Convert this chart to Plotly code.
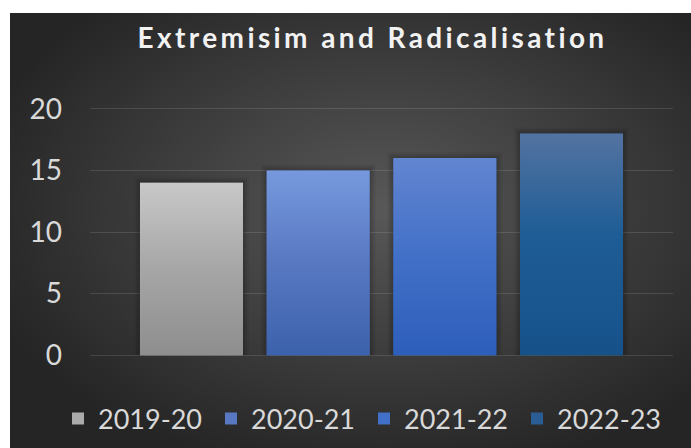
import base64
import plotly.graph_objects as go

# Data
periods = ["2019-20", "2020-21", "2021-22", "2022-23"]
cases = [14, 15, 16, 18]
y_ticks = [0, 5, 10, 15, 20]

# Styling: one vertical gradient per series (bottom -> top), plus a flat legend swatch colour
gradients = [
    [[0, "#8e8e8e"], [0.5, "#a6a6a6"], [1, "#c8c8c8"]],
    [[0, "#3c62ab"], [0.5, "#5878c2"], [1, "#7699dd"]],
    [[0, "#2d5eba"], [0.5, "#4270c8"], [1, "#6285d0"]],
    [[0, "#16518a"], [0.55, "#1f5d96"], [1, "#5373a1"]],
]
swatch = ["#ababab", "#5878c2", "#4270c8", "#2a5d95"]
bar_width = 0.813
text_color = "#d9d9d9"
font_family = "Lato"
# soft shadow around bars: (line width px, opacity)
halo = [(12, 0.05), (8, 0.07), (4, 0.09)]

W, H = 691, 448
margin = dict(l=90, r=18, t=107, b=91, autoexpand=False)
pw = W - margin["l"] - margin["r"]
ph = H - margin["t"] - margin["b"]

fig = go.Figure()

# Real bar traces (carry the legend entries)
for i, (name, val) in enumerate(zip(periods, cases)):
    fig.add_trace(go.Bar(
        x=[i], y=[val], name=name, width=bar_width,
        marker=dict(color=swatch[i], line=dict(width=0)),
        hoverinfo="name+y",
    ))

# Soft dark outline around the sides and top of each bar
for i, val in enumerate(cases):
    x0, x1 = i - bar_width / 2, i + bar_width / 2
    for lw, op in halo:
        fig.add_trace(go.Scatter(
            x=[x0, x0, x1, x1], y=[0, val, val, 0], mode="lines",
            line=dict(width=lw, color=f"rgba(0,0,0,{op})"),
            showlegend=False, hoverinfo="skip",
        ))

# Gradient fill drawn over each bar, built from the same values
for i, val in enumerate(cases):
    x0, x1 = i - bar_width / 2, i + bar_width / 2
    fig.add_trace(go.Scatter(
        x=[x0, x1, x1, x0, x0], y=[0, 0, val, val, 0],
        mode="lines", line=dict(width=0), fill="toself",
        fillgradient=dict(type="vertical", start=0, stop=val,
                          colorscale=gradients[i]),
        showlegend=False, hoverinfo="skip",
    ))

# Radial dark background as an inline SVG image
svg = (
    '<svg xmlns="http://www.w3.org/2000/svg" width="681" height="435" '
    'preserveAspectRatio="none">'
    '<defs><radialGradient id="g" cx="55%" cy="45%" r="62%">'
    '<stop offset="0%" stop-color="#585858"/>'
    '<stop offset="100%" stop-color="#252525"/>'
    '</radialGradient></defs>'
    '<rect width="681" height="435" fill="url(#g)"/></svg>'
)
src = "data:image/svg+xml;base64," + base64.b64encode(svg.encode()).decode()

bg_left, bg_top = 10, 13
fig.add_layout_image(dict(
    source=src, xref="paper", yref="paper",
    x=(bg_left - margin["l"]) / pw,
    y=(H - margin["b"] - bg_top) / ph,
    sizex=(W - bg_left) / pw, sizey=(H - bg_top) / ph,
    xanchor="left", yanchor="top", sizing="stretch", layer="below",
))

n = len(periods)
fig.update_layout(
    width=W, height=H, margin=margin,
    paper_bgcolor="white", plot_bgcolor="rgba(0,0,0,0)",
    barmode="overlay",
    title=dict(
        text='<span style="letter-spacing:3.4px"><b>Extremisim and Radicalisation</b></span>',
        font=dict(family=font_family, size=28, color="#f2f2f2"),
        x=372.5 / W, xref="container", xanchor="center",
        y=1 - 38 / H, yref="container", yanchor="middle",
    ),
    xaxis=dict(range=[-0.801, n - 1 + 0.801], showgrid=False, zeroline=False,
               showticklabels=False, ticks="", fixedrange=True),
    yaxis=dict(range=[-0.15, 20.15], tickvals=y_ticks, showgrid=True,
               gridcolor="rgba(255,255,255,0.12)", gridwidth=1.3,
               zeroline=False, ticks="", ticklabelstandoff=27,
               tickfont=dict(family=font_family, size=28, color=text_color)),
    legend=dict(
        orientation="h", xref="paper", yref="paper",
        x=(58 - margin["l"]) / pw, xanchor="left",
        y=(H - margin["b"] - 419) / ph, yanchor="middle",
        font=dict(family=font_family, size=27, color=text_color),
        entrywidth=108, entrywidthmode="pixels",
        bgcolor="rgba(0,0,0,0)", itemclick=False, itemdoubleclick=False,
    ),
    showlegend=True,
)

fig.write_html("out.html")
